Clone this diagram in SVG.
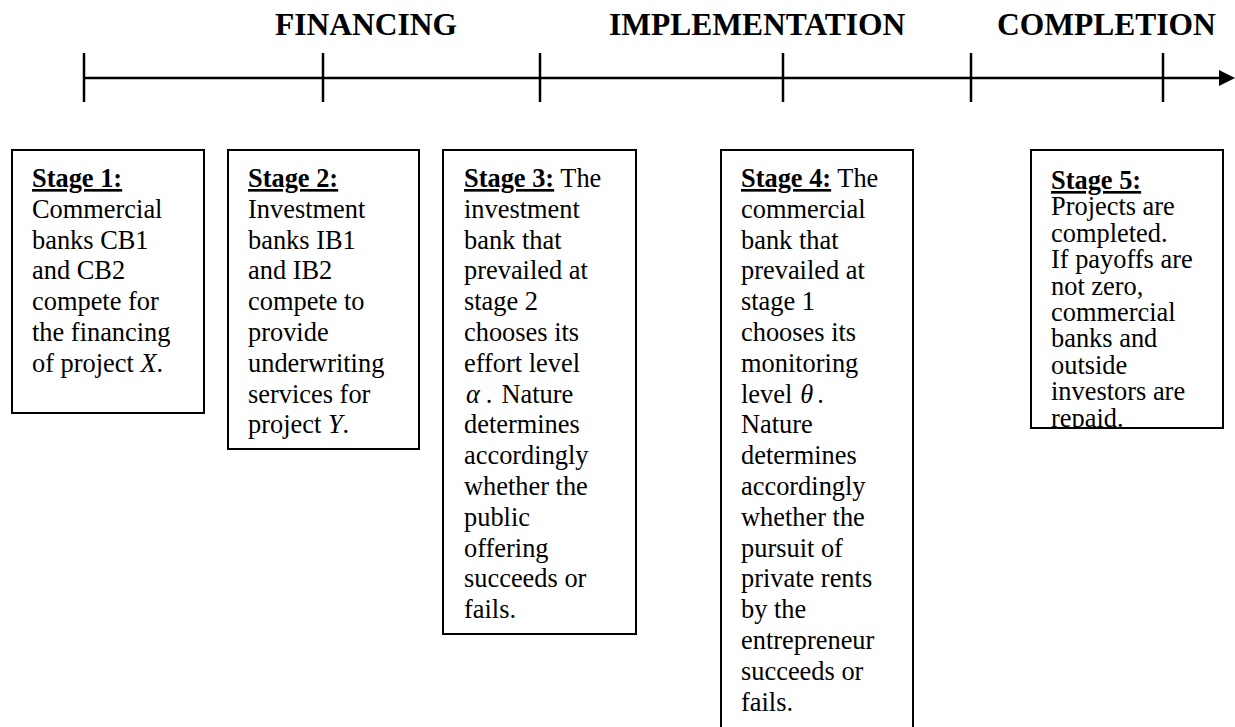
<svg xmlns="http://www.w3.org/2000/svg" width="1235" height="727" viewBox="0 0 1235 727">
<style>
.title{font-family:"Liberation Serif","Times New Roman",serif;font-weight:bold;font-size:31.5px;fill:#000}
.body{font-family:"Liberation Serif","Times New Roman",serif;font-size:26.4px;fill:#000}
.hd{font-weight:bold;text-decoration:underline}
.box{fill:#fff;stroke:#000;stroke-width:2}
.tl{stroke:#000;stroke-width:2.5;fill:none}
.gr{font-style:italic}
</style>
<defs>
<clipPath id="c5"><rect x="1031" y="150" width="192" height="278"/></clipPath>
</defs>
<g id="titles">
<text class="title" x="275" y="35">FINANCING</text>
<text class="title" x="609" y="35">IMPLEMENTATION</text>
<text class="title" x="997" y="35">COMPLETION</text>
</g>
<g id="connectors">
<line class="tl" x1="84" y1="78" x2="1222" y2="78"/>
<polygon points="1219,70 1235,78 1219,86" fill="#000"/>
<line class="tl" x1="84" y1="53" x2="84" y2="102"/>
<line class="tl" x1="323" y1="53" x2="323" y2="102"/>
<line class="tl" x1="540" y1="53" x2="540" y2="102"/>
<line class="tl" x1="783" y1="53" x2="783" y2="102"/>
<line class="tl" x1="971" y1="53" x2="971" y2="102"/>
<line class="tl" x1="1163" y1="53" x2="1163" y2="102"/>
</g>
<g id="stage1">
<rect class="box" x="12" y="150" width="192" height="263"/>
<text class="body" x="32" y="187"><tspan class="hd">Stage 1:</tspan>
<tspan x="32" dy="30.8">Commercial</tspan>
<tspan x="32" dy="30.8">banks CB1</tspan>
<tspan x="32" dy="30.8">and CB2</tspan>
<tspan x="32" dy="30.8">compete for</tspan>
<tspan x="32" dy="30.8">the financing</tspan>
<tspan x="32" dy="30.8">of project <tspan class="gr">X</tspan>.</tspan></text>
</g>
<g id="stage2">
<rect class="box" x="228" y="150" width="191" height="299"/>
<text class="body" x="248" y="187"><tspan class="hd">Stage 2:</tspan>
<tspan x="248" dy="30.8">Investment</tspan>
<tspan x="248" dy="30.8">banks IB1</tspan>
<tspan x="248" dy="30.8">and IB2</tspan>
<tspan x="248" dy="30.8">compete to</tspan>
<tspan x="248" dy="30.8">provide</tspan>
<tspan x="248" dy="30.8">underwriting</tspan>
<tspan x="248" dy="30.8">services for</tspan>
<tspan x="248" dy="30.8">project <tspan class="gr">Y</tspan>.</tspan></text>
</g>
<g id="stage3">
<rect class="box" x="443" y="150" width="193" height="484"/>
<text class="body" x="464" y="187"><tspan class="hd">Stage 3:</tspan> The
<tspan x="464" dy="30.8">investment</tspan>
<tspan x="464" dy="30.8">bank that</tspan>
<tspan x="464" dy="30.8">prevailed at</tspan>
<tspan x="464" dy="30.8">stage 2</tspan>
<tspan x="464" dy="30.8">chooses its</tspan>
<tspan x="464" dy="30.8">effort level</tspan>
<tspan x="466" dy="30.8" class="gr">α</tspan><tspan dx="6">.</tspan><tspan dx="9">Nature</tspan>
<tspan x="464" dy="30.8">determines</tspan>
<tspan x="464" dy="30.8">accordingly</tspan>
<tspan x="464" dy="30.8">whether the</tspan>
<tspan x="464" dy="30.8">public</tspan>
<tspan x="464" dy="30.8">offering</tspan>
<tspan x="464" dy="30.8">succeeds or</tspan>
<tspan x="464" dy="30.8">fails.</tspan></text>
</g>
<g id="stage4">
<rect class="box" x="721" y="150" width="192" height="620"/>
<text class="body" x="741" y="187"><tspan class="hd">Stage 4:</tspan> The
<tspan x="741" dy="30.8">commercial</tspan>
<tspan x="741" dy="30.8">bank that</tspan>
<tspan x="741" dy="30.8">prevailed at</tspan>
<tspan x="741" dy="30.8">stage 1</tspan>
<tspan x="741" dy="30.8">chooses its</tspan>
<tspan x="741" dy="30.8">monitoring</tspan>
<tspan x="741" dy="30.8">level</tspan><tspan dx="8" class="gr">θ</tspan><tspan dx="4">.</tspan>
<tspan x="741" dy="30.8">Nature</tspan>
<tspan x="741" dy="30.8">determines</tspan>
<tspan x="741" dy="30.8">accordingly</tspan>
<tspan x="741" dy="30.8">whether the</tspan>
<tspan x="741" dy="30.8">pursuit of</tspan>
<tspan x="741" dy="30.8">private rents</tspan>
<tspan x="741" dy="30.8">by the</tspan>
<tspan x="741" dy="30.8">entrepreneur</tspan>
<tspan x="741" dy="30.8">succeeds or</tspan>
<tspan x="741" dy="30.8">fails.</tspan></text>
</g>
<g id="stage5">
<rect class="box" x="1031" y="150" width="192" height="278"/>
<text class="body" x="1051" y="189" clip-path="url(#c5)"><tspan class="hd">Stage 5:</tspan>
<tspan x="1051" dy="26.4">Projects are</tspan>
<tspan x="1051" dy="26.4">completed.</tspan>
<tspan x="1051" dy="26.4">If payoffs are</tspan>
<tspan x="1051" dy="26.4">not zero,</tspan>
<tspan x="1051" dy="26.4">commercial</tspan>
<tspan x="1051" dy="26.4">banks and</tspan>
<tspan x="1051" dy="26.4">outside</tspan>
<tspan x="1051" dy="26.4">investors are</tspan>
<tspan x="1051" dy="26.4">repaid.</tspan></text>
</g>
</svg>
